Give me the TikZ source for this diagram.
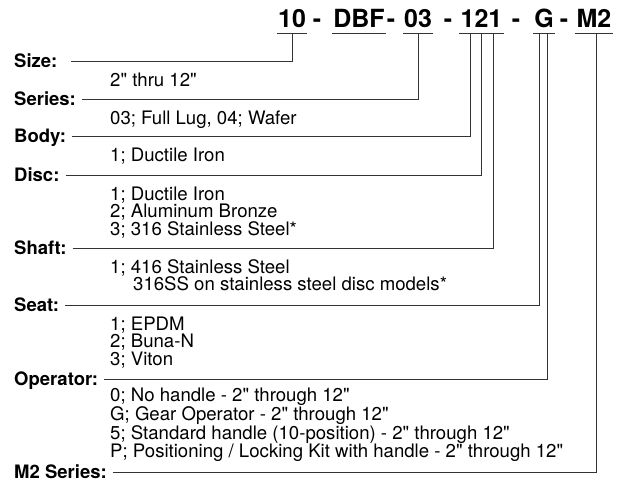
\documentclass[tikz,border=0pt]{standalone}
\usepackage{fontspec}
\setmainfont{TeX Gyre Heros}
\usetikzlibrary{positioning,calc}
\newcommand{\inch}{\textquotedbl}

\begin{document}
\begin{tikzpicture}[x=1pt,y=-1pt,
  codepart/.style={font=\fontsize{25}{25}\selectfont\bfseries,anchor=base,inner xsep=1pt,inner ysep=6pt,text depth=0pt},
  hyph/.style={font=\fontsize{25}{25}\selectfont\bfseries,anchor=base,inner sep=0pt},
  lbl/.style={font=\fontsize{18.5}{18}\selectfont\bfseries,anchor=west,inner sep=0pt,text height=13pt,text depth=0pt},
  optlist/.style={font=\fontsize{18.6}{17.8}\selectfont,anchor=base west,align=left,inner sep=0pt},
  leadline/.style={draw=black!80,line width=0.9pt},
  uline/.style={draw=black!80,line width=0.9pt}]
  \useasboundingbox (0,0) rectangle (619,482);
  % model code, each part underlined
  \foreach \nm/\txt/\xx in {c10/10/292,cDBF/DBF/359,c03/03/418,c121/121/481.5,cG/G/544,cMtwo/M2/594} {
    \node[codepart] (\nm) at (\xx,27) {\txt};
    \draw[uline] (\nm.south west) -- (\nm.south east);
  }
  \foreach \nm/\xx in {h1/317,h2/391,h3/448,h4/516,h5/564}
    \node[hyph] (\nm) at (\xx,27) {-};
  % field labels
  \foreach \nm/\txt/\yy in {sizeL/Size:/61,seriesL/Series:/99,bodyL/Body:/136,discL/Disc:/175,
                            shaftL/Shaft:/248,seatL/Seat:/305,operL/Operator:/379,mtwoL/M2 Series:/472}
    \node[lbl] (\nm) at (14,\yy) {\txt};
  % where each lead meets the code
  \coordinate (sizeTop) at (c10.south);
  \coordinate (seriesTop) at (c03.south);
  \coordinate (bodyTop) at ([xshift=-11.5pt]c121.south);
  \coordinate (discTop) at (c121.south);
  \coordinate (shaftTop) at ([xshift=11.5pt]c121.south);
  \coordinate (seatTop) at ([xshift=-5pt]cG.south);
  \coordinate (operTop) at ([xshift=3pt]cG.south);
  \coordinate (mtwoTop) at ([xshift=2pt]cMtwo.south);
  \foreach \lb/\tp/\gap in {sizeL/sizeTop/13,seriesL/seriesTop/6,bodyL/bodyTop/6,discL/discTop/6,
                            shaftL/shaftTop/6,seatL/seatTop/6,operL/operTop/6,mtwoL/mtwoTop/6}
    \draw[leadline] ([xshift=\gap pt]\lb.east) -- (\lb.east -| \tp) -- (\tp);
  % options under each field (anchored at the baseline of the last line)
  \node[optlist] (sizeD) at (110,86) {2\inch{} thru 12\inch};
  \node[optlist] (seriesD) at (110,124) {03; Full Lug, 04; Wafer};
  \node[optlist] (bodyD) at (110,161) {1; Ductile Iron};
  \node[optlist] (discD) at (110,235.6) {1; Ductile Iron\\2; Aluminum Bronze\\3; 316 Stainless Steel*};
  \node[optlist] (shaftD) at (110,290.8) {1; 416 Stainless Steel\\\hspace*{23pt}316SS on stainless steel disc models*};
  \node[optlist] (seatD) at (110,365.6) {1; EPDM\\2; Buna-N\\3; Viton};
  \node[optlist] (operD) at (110,457.4) {0; No handle - 2\inch{} through 12\inch\\G; Gear Operator - 2\inch{} through 12\inch\\
    5; Standard handle (10-position) - 2\inch{} through 12\inch\\P; Positioning / Locking Kit with handle - 2\inch{} through 12\inch};
\end{tikzpicture}
\end{document}
